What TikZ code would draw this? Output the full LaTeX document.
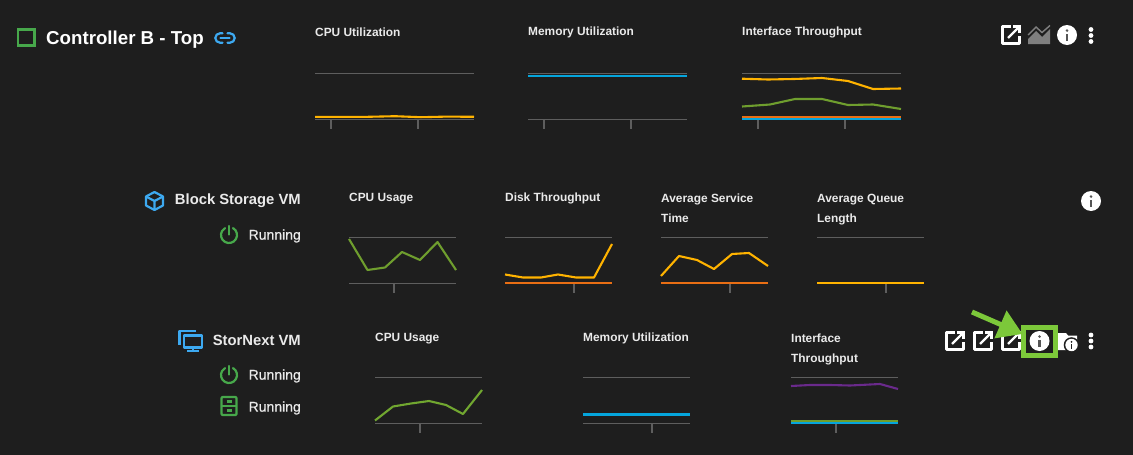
\documentclass[tikz,border=0pt]{standalone}
\usepackage{fontspec}
\setmainfont{Liberation Sans}
\newfontfamily\medfont[FakeBold=0.7]{Liberation Sans}
\usetikzlibrary{arrows.meta,calc}
\definecolor{bgc}{HTML}{1E1E1E}
\definecolor{grid}{HTML}{5E5E5E}
\definecolor{tyellow}{HTML}{FFB300}
\definecolor{torange}{HTML}{E86E14}
\definecolor{tblue}{HTML}{05A5DC}
\definecolor{tgreen}{HTML}{6F9E2E}
\definecolor{tpurple}{HTML}{6A2A8C}
\definecolor{okgreen}{HTML}{47A84B}
\definecolor{lblue}{HTML}{3DA9F0}
\definecolor{lime}{HTML}{7CC83A}
\definecolor{txt}{HTML}{EAEAEA}
\definecolor{igrey}{HTML}{555555}
\definecolor{chartgrey}{HTML}{7F7F7F}
\tikzset{
  x=1pt,y=-1pt,
  gridline/.style={draw=grid,line width=1.1pt},
  series/.style={line width=2.1pt,line join=round},
  chartlabel/.style={anchor=west,inner sep=0,text=txt,font=\fontsize{11.9}{14}\selectfont\bfseries},
  chartlabeltwo/.style={align=left,anchor=north west,inner sep=0,text=txt,font=\fontsize{11.9}{20}\selectfont\bfseries},
  namelabel/.style={anchor=east,inner sep=0,text=txt,font=\fontsize{14.8}{18}\selectfont\bfseries},
  statelabel/.style={anchor=east,inner sep=0,text=txt,font=\medfont\fontsize{14}{17}\selectfont},
  titlelabel/.style={anchor=west,inner sep=0,text=white,font=\fontsize{18.7}{22}\selectfont\bfseries},
  infopic/.pic={
    \fill[white] (0,0) circle (10);
    \fill[igrey] (-1.2,-1.2) rectangle (1.2,6);
    \fill[igrey] (0,-4.4) circle (1.4);
  },
  dotspic/.pic={
    \fill[white] (0,-6) circle (2.4) (0,0) circle (2.4) (0,6) circle (2.4);
  },
  openpic/.pic={
    \draw[white,line width=2.4pt,line join=round] (-0.5,-8.6) -- (-8.6,-8.6) -- (-8.6,8.6) -- (8.6,8.6) -- (8.6,0.5);
    \draw[white,line width=2.4pt] (-3,3) -- (7,-7);
    \draw[white,line width=2.4pt] (2,-8.6) -- (8.6,-8.6) -- (8.6,-2);
  },
  powerpic/.pic={
    \draw[okgreen,line width=2.2pt,line cap=round] (4,-6.93) arc[start angle=-60,end angle=240,radius=8];
    \draw[okgreen,line width=2.2pt,line cap=round] (0,-9) -- (0,-0.5);
  },
}
\newcommand{\chartbase}[5]{% x0 x1 top bottom tick
  \draw[gridline] (#1,#3) -- (#2,#3);
  \draw[gridline] (#1,#4) -- (#2,#4);
  \draw[gridline] (#5,#4) -- (#5,#4+9);
}
\begin{document}
\begin{tikzpicture}
\useasboundingbox (0,0) rectangle (1133,455);
\fill[bgc] (0,0) rectangle (1133,455);

% ---- Controller row
\draw[okgreen,line width=2.2pt] (18,29.5) rectangle (34.5,45.5);
\node[titlelabel] (ctrl) at (46,39.5) {Controller B - Top};
\begin{scope}[lblue,line width=2.2pt,line cap=round]
  \draw (222.5,33.3) -- (220,33.3) arc[start angle=270,end angle=90,radius=4.7] -- (222.5,42.7);
  \draw (227.5,33.3) -- (230,33.3) arc[start angle=-90,end angle=90,radius=4.7] -- (227.5,42.7);
  \draw (220.5,38) -- (229.5,38);
\end{scope}
\node[chartlabel] (c1) at (315,32.5) {CPU Utilization};
\node[chartlabel] (c2) at (528,32.5) {Memory Utilization};
\node[chartlabel] (c3) at (742,32.5) {Interface Throughput};
\chartbase{315}{474}{73.5}{119.5}{331}
\draw[gridline] (418,119.5) -- (418,128.5);
\draw[series,tyellow] (315,116.8) -- (341,116.8) -- (368,116.8) -- (395,116.2) -- (421,117.2) -- (447,116.6) -- (474,116.8);
\chartbase{528}{687}{73.5}{119.5}{544}
\draw[gridline] (631,119.5) -- (631,128.5);
\draw[series,tblue] (528,76.2) -- (687,76.2);
\chartbase{742}{901}{73.5}{119.5}{758}
\draw[gridline] (845,119.5) -- (845,128.5);
\draw[series,tyellow] (742,78.7) -- (768,79.5) -- (794,79) -- (822,78) -- (848,81) -- (873,89) -- (901,88.5);
\draw[series,tgreen] (742,106.5) -- (770,104.5) -- (795,99) -- (822,99) -- (848,105) -- (873,104.5) -- (901,109);
\draw[series,torange] (742,117) -- (901,117);
\draw[series,tblue] (742,118.6) -- (901,118.6);
\pic at (1011,35) {openpic};
\fill[chartgrey] (1028,44) -- (1028,39) -- (1036,31) -- (1042,37) -- (1050,29) -- (1050,44) -- cycle;
\draw[chartgrey,line width=1.4pt] (1028,35) -- (1036,27) -- (1042,32.5) -- (1050,25.5);
\pic at (1067,35) {infopic};
\pic at (1091,35.5) {dotspic};

% ---- Block Storage row
\begin{scope}[lblue,line width=2.2pt,line join=round]
  \draw (154.5,192) -- (163,196.5) -- (163,205.5) -- (154.5,210) -- (146,205.5) -- (146,196.5) -- cycle;
  \draw (146,196.5) -- (154.5,201) -- (163,196.5) (154.5,201) -- (154.5,210);
\end{scope}
\node[namelabel] (bsvm) at (301,200.5) {Block Storage VM};
\pic at (229,235) {powerpic};
\node[statelabel] (bsrun) at (301,236) {Running};
\node[chartlabel] (d1) at (349,198.5) {CPU Usage};
\node[chartlabel] (d2) at (505,198.5) {Disk Throughput};
\node[chartlabeltwo] (d3) at (661,193.5) {Average Service\\Time};
\node[chartlabeltwo] (d4) at (817,193.5) {Average Queue\\Length};
\chartbase{349}{456}{237.5}{283.5}{394}
\draw[series,tgreen] (349,239) -- (367.5,270) -- (385,267.5) -- (402,252) -- (420,260) -- (437.5,242) -- (456,270);
\chartbase{505}{612}{237.5}{283.5}{574}
\draw[series,tyellow] (505,274.5) -- (523,277.5) -- (541,277.5) -- (558,274.5) -- (576,277.5) -- (594,277.5) -- (612,244);
\draw[series,torange] (505,283) -- (612,283);
\chartbase{661}{768}{237.5}{283.5}{730}
\draw[series,tyellow] (661,276) -- (679,256) -- (697,260) -- (714,269) -- (732,254) -- (749,253) -- (768,266);
\draw[series,torange] (661,283) -- (768,283);
\chartbase{817}{924}{237.5}{283.5}{886}
\draw[series,tyellow] (817,283) -- (924,283);
\pic at (1091,201) {infopic};

% ---- StorNext row
\begin{scope}[lblue,line width=2.3pt,line join=round]
  \draw (196,331) -- (179.5,331) -- (179.5,345);
  \draw (184,335.5) rectangle (202,347.5);
  \draw (193,347.5) -- (193,351);
  \draw (187,351) -- (199,351);
\end{scope}
\node[namelabel] (snvm) at (301,340.5) {StorNext VM};
\pic at (229,375) {powerpic};
\node[statelabel] (snrun1) at (301,376) {Running};
\begin{scope}[okgreen,line width=2.2pt,line join=round]
  \draw[rounded corners=1pt] (221.5,397) rectangle (236.5,415);
  \draw (221.5,406) -- (236.5,406);
  \draw (226.5,401.5) -- (231.5,401.5) (226.5,410.5) -- (231.5,410.5);
\end{scope}
\node[statelabel] (snrun2) at (301,408) {Running};
\node[chartlabel] (e1) at (375,338.5) {CPU Usage};
\node[chartlabel] (e2) at (583,338.5) {Memory Utilization};
\node[chartlabeltwo] (e3) at (791,333.5) {Interface\\Throughput};
\chartbase{375}{482}{377.5}{423.5}{420}
\draw[series,tgreen!80!lime] (375,420.5) -- (393,406.5) -- (411,403.5) -- (429,401) -- (446,405) -- (463,414) -- (482,390);
\chartbase{583}{690}{377.5}{423.5}{652}
\draw[series,tblue] (583,414.5) -- (690,414.5);
\chartbase{791}{898}{377.5}{423.5}{836}
\draw[series,tpurple] (791,386) -- (810,385) -- (830,385) -- (850,385.5) -- (880,384) -- (898,389);
\draw[series,tgreen] (791,421) -- (898,421);
\draw[series,tblue] (791,422.6) -- (898,422.6);
\pic at (955,341) {openpic};
\pic at (983,341) {openpic};
\pic at (1011,341) {openpic};
% folder with small info badge
\fill[white] (1058,333) -- (1066,333) -- (1068,335.5) -- (1077,335.5) -- (1077,350) -- (1058,350) -- cycle;
\fill[bgc] (1071.5,345) circle (7.8);
\fill[white] (1071.5,345) circle (6.2);
\fill[bgc] (1070.7,344) rectangle (1072.3,349);
\fill[bgc] (1071.5,341.8) circle (1);
\pic at (1091,341) {dotspic};
\pic at (1039.5,341) {infopic};
\node[draw=lime,line width=5pt,minimum width=32pt,minimum height=28pt,inner sep=0,outer sep=0] (hl) at (1039.5,341) {};
\coordinate (arrowstart) at (972,312);
\coordinate (arrowtip) at ($(hl.west)+(-1,-7)$);
\draw[lime,line width=5pt,-{Triangle[length=24pt,width=29pt]}] (arrowstart) -- (arrowtip);
\end{tikzpicture}
\end{document}
